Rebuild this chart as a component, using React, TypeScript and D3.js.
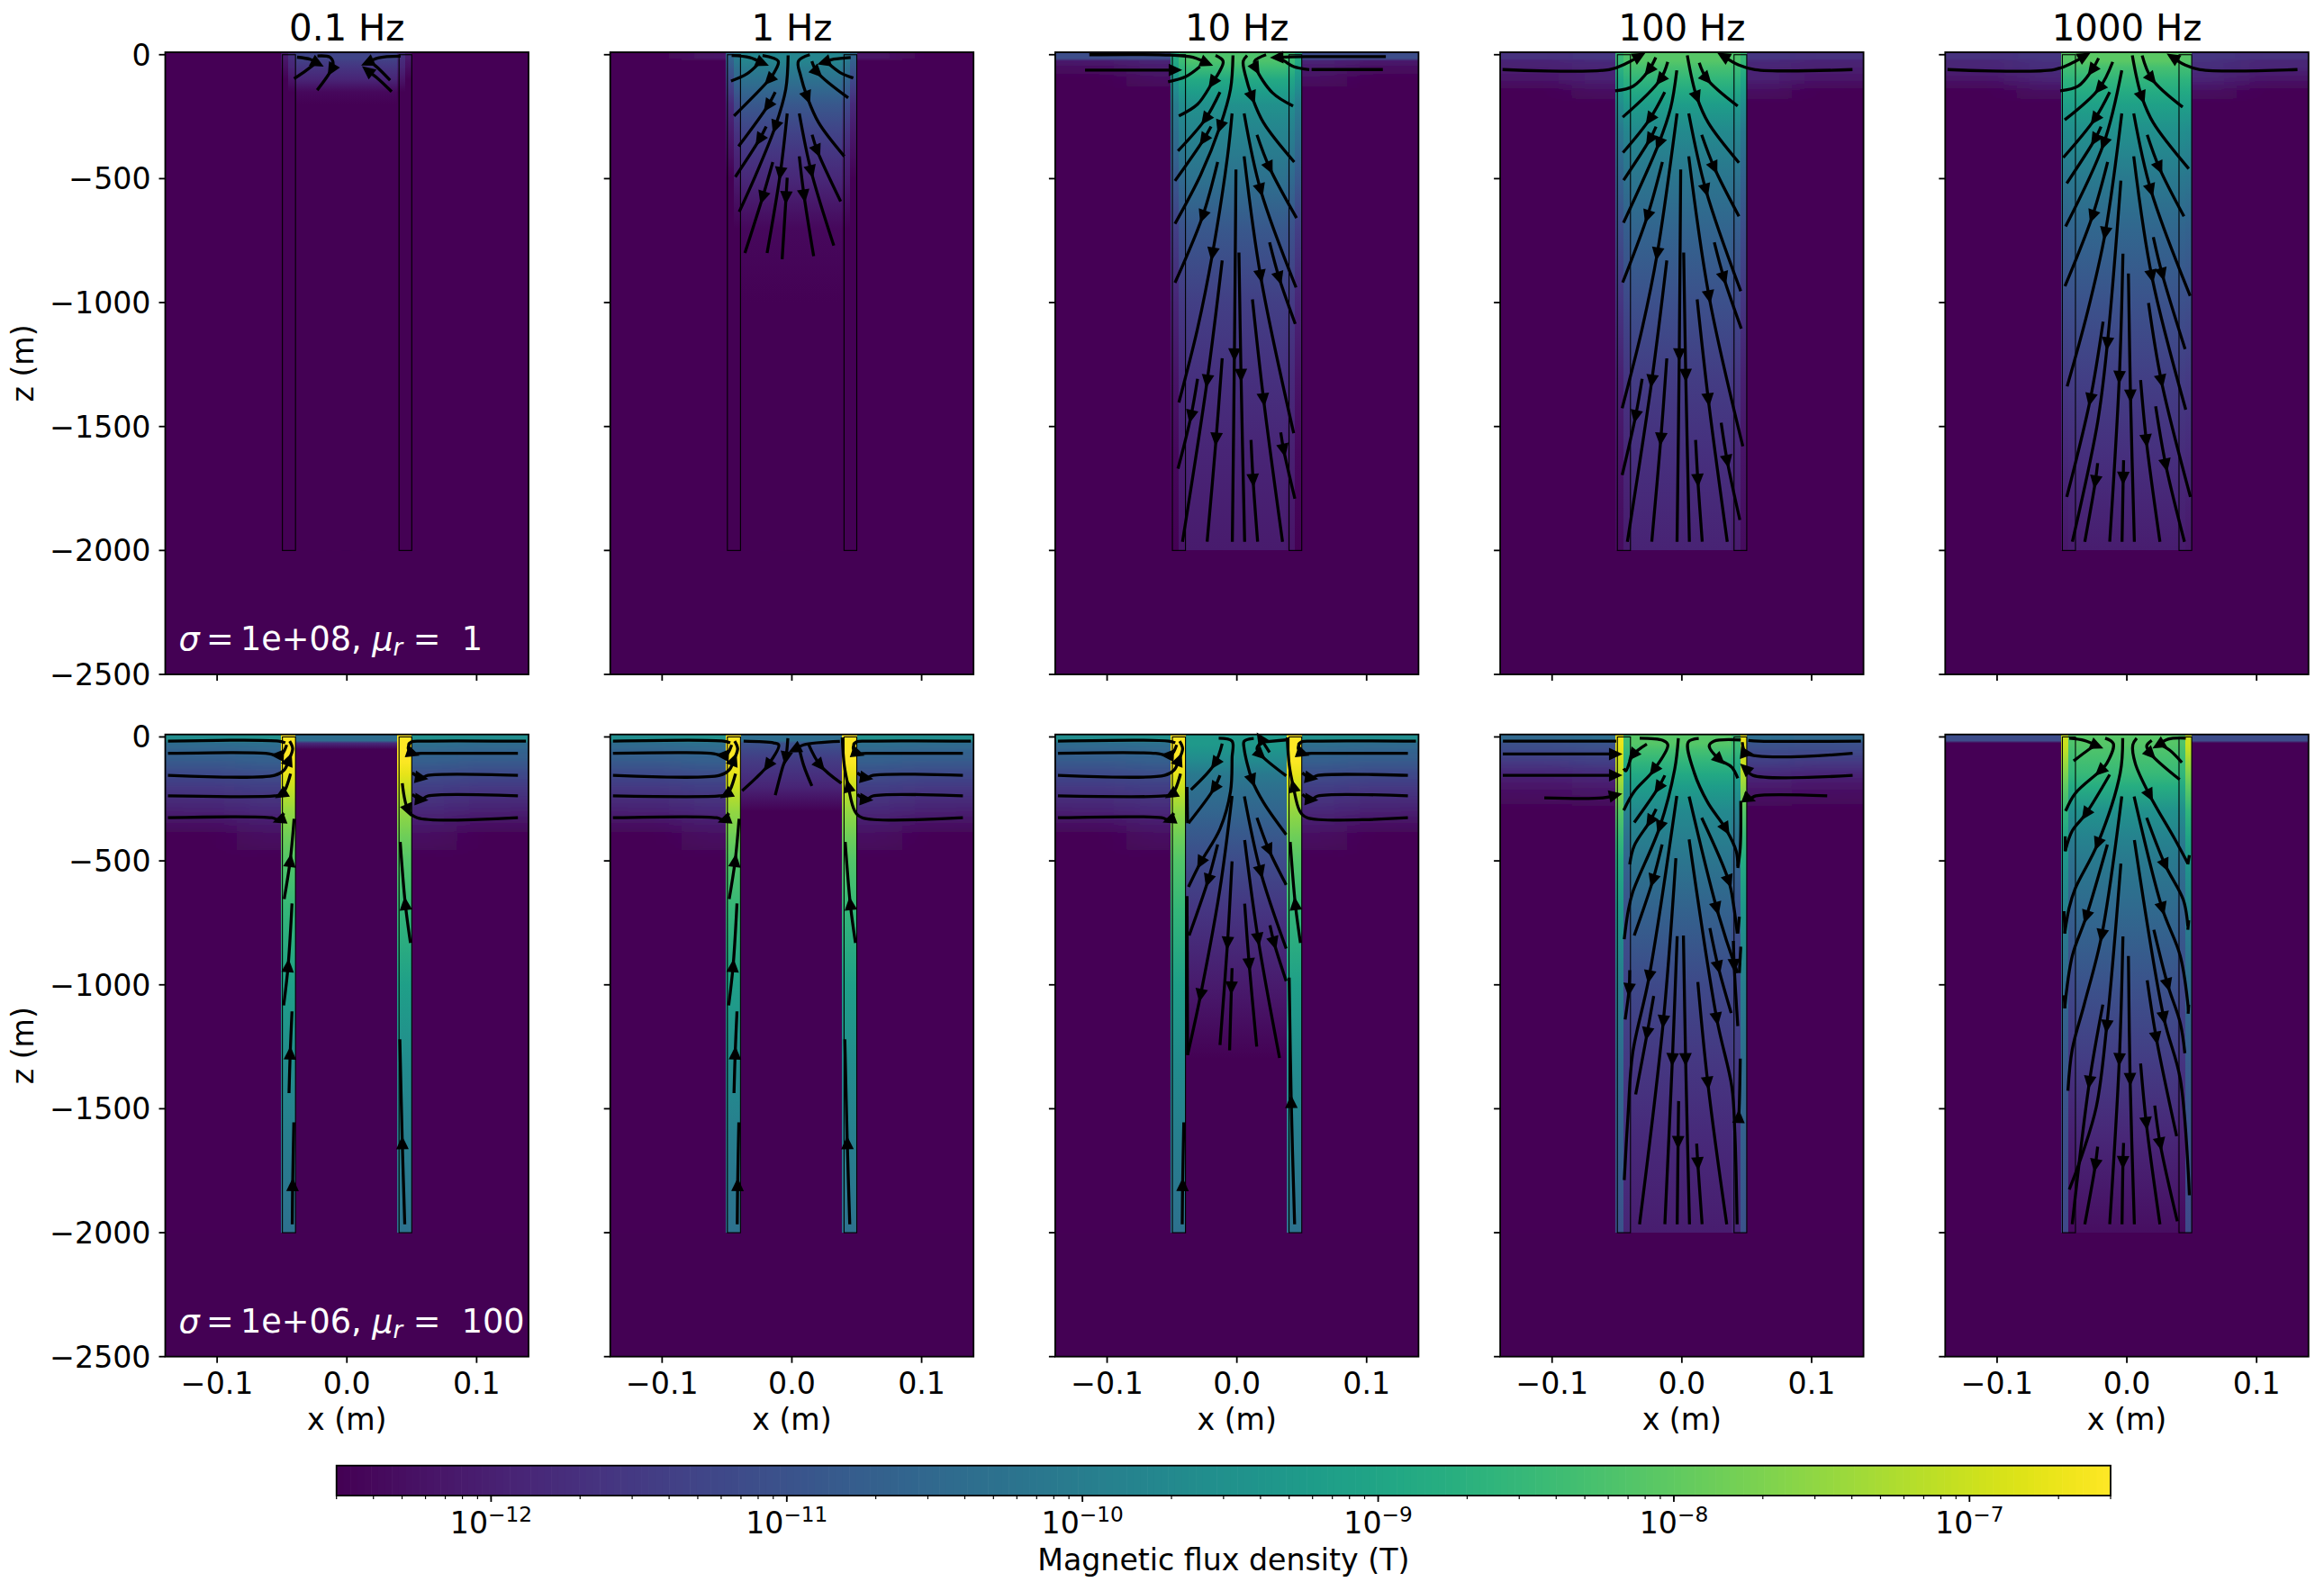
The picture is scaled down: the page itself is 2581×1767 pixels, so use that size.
import React from 'react';
import * as d3 from 'd3';

const freqs = ['0.1 Hz', '1 Hz', '10 Hz', '100 Hz', '1000 Hz'];
const xTicks = [-0.1, 0, 0.1];
const zTicks = [0, -500, -1000, -1500, -2000, -2500];
const cbarExps = [-12, -11, -10, -9, -8, -7];
const casingX = [[-49.7, -39.6], [40.2, 50]]; // mm

// log10(B) at each depth, missing values = below colour range
const depths = [0, 15, 25, 50, 100, 150, 200, 300, 400, 500, 700, 1000, 1300, 1600, 2000];
const colEdges = [-140, -85, -51, -45, -39.5, 38.6, 45, 50, 85, 140]; // mm

const top01 = {
  core: [-11.3, -11.3, -11.4, -11.6, -11.9, -12.4, -12.6],
  inner: [-11.7, -11.7, -11.8, -11.9, -12.2, -12.5],
  outer: [-12.1, -12.1, -12.2, -12.3, -12.5],
  near: [], far: [],
};
const top1 = {
  core: [-9.8, -9.8, -9.8, -10.0, -10.3, -10.6, -10.9, -11.3, -11.6, -11.85, -12.4, -12.6],
  inner: [-10.1, -10.1, -10.1, -10.3, -10.6, -10.9, -11.2, -11.6, -11.9, -12.1, -12.5],
  outer: [-10.6, -10.6, -10.7, -10.9, -11.2, -11.5, -11.8, -12.1, -12.3, -12.5],
  near: [-12.2, -12.2, -12.5], far: [-12.5],
};
const top10 = {
  core: [-8.2, -8.2, -8.2, -8.4, -8.9, -9.2, -9.5, -9.8, -10.05, -10.3, -10.9, -11.4, -11.7, -11.9, -12.1],
  inner: [-8.4, -8.4, -8.4, -8.6, -9, -9.3, -9.6, -9.9, -10.2, -10.5, -11, -11.5, -11.8, -12, -12.2],
  outer: [-8.9, -8.9, -8.9, -9.1, -9.4, -9.7, -10, -10.3, -10.6, -10.9, -11.4, -11.9, -12.2, -12.4, -12.5],
  near: [-11.1, -11.1, -11.9, -12.1, -12.3, -12.5], far: [-11.1, -11.1, -12.1, -12.3, -12.5],
};
const top100 = {
  core: [-8.1, -8.1, -8.1, -8.3, -8.6, -8.9, -9.2, -9.65, -9.95, -10.2, -10.6, -11.05, -11.45, -11.7, -11.95],
  inner: [-8.2, -8.2, -8.2, -8.4, -8.7, -9, -9.3, -9.75, -10.05, -10.3, -10.75, -11.2, -11.6, -11.85, -12.1],
  outer: [-8.5, -8.5, -8.5, -8.7, -9, -9.3, -9.6, -10.1, -10.4, -10.65, -11.1, -11.6, -12, -12.2, -12.35],
  near: [-11.6, -11.6, -11.8, -11.9, -12, -12.3, -12.5], far: [-11.7, -11.7, -11.95, -12, -12.2, -12.5],
};
const top1000 = {
  core: [-8.05, -8.05, -8.05, -8.3, -8.6, -8.85, -9.1, -9.5, -9.8, -10.1, -10.55, -11, -11.4, -11.7, -12.05],
  inner: [-8.1, -8.1, -8.1, -8.35, -8.65, -8.9, -9.15, -9.55, -9.85, -10.15, -10.6, -11.05, -11.45, -11.75, -12.1],
  outer: [-8.1, -8.1, -8.1, -8.35, -8.65, -8.9, -9.15, -9.6, -9.9, -10.2, -10.65, -11.1, -11.5, -11.8, -12.15],
  near: [-11.6, -11.6, -11.7, -11.75, -11.95, -12.3, -12.5], far: [-11.7, -11.7, -11.9, -11.9, -12.2, -12.5],
};
const wallLow = [-6.5, -6.5, -6.5, -6.5, -6.55, -6.75, -7, -7.5, -7.85, -8.15, -8.55, -9.15, -9.6, -9.95, -10.3];
const nearLow = [-9.5, -9.5, -10.3, -10.5, -10.75, -11.1, -11.4, -11.85, -12.3, -12.6];
const farLow = [-9.6, -9.6, -10.4, -10.6, -10.85, -11.2, -11.5, -12, -12.6];
const bottom01 = {
  core: [-10.4, -10.4, -11.8, -12.6],
  inner: wallLow, outer: wallLow, near: nearLow, far: farLow,
};
const bottom1 = {
  core: [-10.4, -10.4, -11, -11.2, -11.5, -11.7, -11.9, -12.6],
  inner: wallLow, outer: wallLow, near: nearLow, far: farLow,
};
const bottom10 = {
  core: [-9.3, -9.3, -9.3, -9.4, -9.7, -10.1, -10.3, -10.6, -10.9, -11.15, -11.6, -12.1, -12.6],
  inner: wallLow, outer: wallLow, near: nearLow, far: farLow,
};
const bottom100 = {
  core: [-8.1, -8.1, -8.1, -8.3, -8.6, -8.9, -9.2, -9.7, -9.95, -10.2, -10.65, -11.2, -11.55, -11.8, -12.05],
  inner: [-8.4, -8.4, -8.4, -8.5, -8.8, -9.1, -9.4, -9.9, -10.3, -10.6, -11, -11.3, -11.5, -11.7, -11.9],
  outer: [-6.7, -6.7, -6.7, -6.8, -7, -7.2, -7.5, -8.1, -8.5, -8.85, -9.4, -10, -10.4, -10.7, -11],
  near: [-10.4, -10.4, -10.95, -11.1, -11.4, -11.8, -12.1, -12.6],
  far: [-10.5, -10.5, -11, -11.15, -11.5, -11.9, -12.2, -12.6],
};
const bottom1000 = {
  core: [-8.1, -8.1, -8.1, -8.2, -8.35, -8.5, -8.8, -9.5, -9.85, -10.1, -10.5, -11, -11.45, -11.85, -12.3],
  inner: [-8.2, -8.2, -8.2, -8.3, -8.45, -8.6, -8.9, -9.6, -10, -10.3, -10.7, -11.2, -11.6, -12, -12.4],
  outer: [-7, -7, -7, -7.1, -7.4, -7.7, -8, -8.6, -9, -9.4, -9.9, -10.5, -10.85, -11.05, -11.2],
  near: [-11.1, -11.1, -12.6], far: [-11.1, -11.1, -12.6],
};

// streamlines: [arrow vertex (0 = none), x mm, z m, x mm, z m, ...] in flow order
const linesTop01 = [
  [2, -38.4, -10, -28, -19, -22.7, -34],
  [0, -40.7, -97, -31.5, -64, -24.5, -36],
  [3, -22.7, -5, -13, -10, -10.6, -34, -12, -61, -22.9, -143],
  [2, 41.4, -6, 24, -13, 16, -32],
  [0, 33.3, -103, 21.8, -44, 16, -25],
  [2, 34.5, -149, 24, -97, 16, -64],
];
const linesTop1 = [
  [2, -46.4, -3, -32.5, -11, -22.8, -33],
  [0, -46.9, -106, -34.8, -78, -25.6, -36],
  [3, -22.6, -3, -10.5, -26, -13.5, -71, -17.5, -101, -44.6, -247],
  [1, -12.8, -151, -18.6, -207, -41.1, -370],
  [1, -19.8, -290, -25.1, -343, -43.6, -493],
  [2, -2.9, -3, -4.7, -139, -12.8, -290, -27.9, -486, -40.6, -634],
  [1, -3.6, -237, -8.9, -478, -19.1, -800],
  [1, -14.7, -433, -22.6, -576, -36.2, -800],
  [1, -3.6, -496, -4.5, -576, -7.5, -825],
  [1, 5.7, -410, 9.4, -569, 16.8, -813],
  [1, 5.7, -237, 14.9, -471, 32.3, -770],
  [1, 15.6, -323, 19.6, -388, 37.6, -592],
  [3, 13.8, 0, 5, -26, 6.8, -86, 11.9, -172, 20.7, -275, 40.4, -410],
  [1, 15.4, -26, 19.6, -71, 43.4, -174],
  [2, 45.3, -11, 32.3, -18, 24.9, -30],
  [0, 47.3, -94, 36.9, -71, 27.6, -33],
];
const linesTop10 = [
  [3, -113.7, 0, -51.2, -1.5, -33.8, -10.6, -23.4, -33],
  [0, -53, -109, -39.6, -89, -28.5, -48],
  [1, -117, -62, -47.7, -62],
  [3, -16.4, -3, -10.6, -26, -13.7, -71, -18.8, -112, -30.3, -200, -44.7, -247],
  [1, -13, -151, -24.3, -260, -45.4, -388],
  [1, -19.9, -290, -25.7, -343, -47.7, -509],
  [2, -3, -3, -4.9, -139, -13, -290, -28, -486, -47.7, -682],
  [2, -3.7, -237, -7.2, -410, -18.8, -803, -30.3, -1105, -44.7, -1403],
  [1, -14.8, -433, -26.4, -652, -47.7, -920],
  [1, -11.3, -830, -22.9, -1316, -41.9, -1965],
  [1, -0.7, -463, -1.9, -1210, -3.5, -1965],
  [1, 1.6, -798, 3.2, -1293, 6, -1965],
  [1, -11.3, -1225, -16, -1550, -22.9, -1965],
  [1, -30.3, -1308, -35.4, -1459, -45.4, -1670],
  [3, 7.9, -3, 4.9, -26, 6.7, -86, 11.8, -172, 20.6, -275, 44.2, -433],
  [2, 22.5, 0, 13.7, -26, 14.8, -56, 27.5, -154, 43.3, -207],
  [2, 114.8, -8, 53, -8, 31, -11],
  [0, 55.8, -60, 43.8, -48, 36.8, -26, 32.2, -11],
  [0, 112.5, -60, 57.6, -60],
  [1, 5.6, -237, 18.3, -546, 45.6, -939],
  [1, 15.5, -323, 25.2, -456, 46, -659],
  [1, 5.6, -410, 18.3, -893, 43.8, -1527],
  [1, 25.2, -757, 32.6, -901, 45, -1086],
  [1, 12, -987, 20.6, -1391, 35.2, -1965],
  [1, 10.9, -1554, 12.5, -1716, 16, -1965],
  [1, 33.8, -1524, 36.1, -1595, 44.7, -1791],
];
const linesTop100 = [
  [3, -138.2, -60, -56, -60, -42, -33, -32.8, -6],
  [1, -20.1, -11, -25.5, -63, -37.5, -127, -51.4, -146],
  [1, -10.9, -29, -16.7, -101, -45.6, -252],
  [1, -13.2, -151, -24.8, -260, -45.4, -395],
  [1, -19.9, -290, -24.8, -343, -44.9, -506],
  [2, -3.9, -63, -8.6, -214, -17.8, -358, -45, -678],
  [1, -3.7, -237, -19, -803, -30.6, -1105, -46, -1426],
  [1, -15, -433, -26.6, -652, -45.6, -919],
  [1, -11.6, -830, -23.2, -1316, -42, -1965],
  [1, -30.6, -1308, -35.7, -1459, -46, -1696],
  [1, -0.9, -463, -2, -1210, -3.7, -1965],
  [1, 1.4, -798, 3, -1293, 5.8, -1965],
  [1, -11.6, -1225, -16.2, -1550, -23.2, -1965],
  [2, 4.2, -3, 7.6, -94, 11.6, -172, 20.4, -275, 44, -436],
  [1, 13.4, -33, 19.2, -97, 43, -207],
  [1, 5.3, -237, 18.5, -546, 45.4, -954],
  [1, 15.3, -323, 25, -456, 44, -652],
  [1, 5.3, -410, 21, -976, 47, -1580],
  [1, 25, -757, 32.4, -901, 45.8, -1105],
  [1, 11.8, -987, 20.4, -1391, 35, -1965],
  [1, 10.6, -1554, 12.3, -1716, 15.7, -1965],
  [1, 30.3, -1485, 35, -1640, 44.7, -1877],
  [3, 131.5, -60, 56.3, -60, 43.5, -41, 32, -6],
];
const linesTop1000 = [
  [3, -138.2, -60, -56, -60, -42, -33, -32.8, -6],
  [1, -21.8, -14, -27, -63, -37.5, -127, -51.4, -146],
  [1, -10.9, -29, -21.3, -136, -47.9, -263],
  [1, -13.2, -151, -24.8, -260, -49, -415],
  [1, -19.9, -290, -24.8, -343, -46.3, -519],
  [1, -3.9, -63, -17.8, -358, -47.2, -693],
  [1, -14.8, -433, -26.6, -652, -47.7, -934],
  [1, -3.9, -237, -16.7, -720, -30.6, -1044, -46, -1338],
  [1, -4.6, -508, -15, -1165, -22.5, -1482, -42, -1965],
  [1, -18.3, -1077, -28.2, -1391, -46.3, -1784],
  [1, -3, -803, -5.8, -1301, -13.2, -1965],
  [1, 1.2, -883, 2.8, -1376, 5.8, -1965],
  [1, -22.5, -1648, -24.3, -1723, -32.4, -1965],
  [1, -2.5, -1636, -2.8, -1708, -3.7, -1965],
  [2, 4.2, -3, 7.6, -94, 11.6, -172, 20.4, -275, 47.7, -460],
  [1, 11.8, -3, 19.2, -97, 43, -211],
  [1, 5.3, -237, 18.5, -546, 48.8, -973],
  [1, 15.7, -323, 25, -456, 44, -652],
  [1, 5.3, -410, 19.2, -893, 45.4, -1432],
  [1, 20.4, -736, 27.3, -886, 44.9, -1188],
  [1, 16.7, -1002, 26.6, -1316, 49, -1784],
  [1, 10.6, -1313, 15, -1557, 25.5, -1965],
  [1, 22.2, -1418, 30, -1655, 44.4, -1965],
  [3, 131.5, -60, 56.3, -60, 44.7, -41, 35.4, -11],
];

const sideLow = [
  [0, -137.9, -17, -52.5, -17, -47.5, -24],
  [2, -46.4, -32, -49.9, -69, -53.4, -74, -62.6, -66, -137.9, -66],
  [3, -137.9, -155, -55.7, -155, -48.3, -133, -44.6, -92, -41.8, -47, -44.1, -17],
  [2, -43.4, -148, -47.6, -213, -50.6, -232, -55.7, -238, -137.9, -238],
  [1, -48.7, -308, -52, -335, -57.9, -326, -137.9, -326],
  [0, 138, -17, 57.8, -17, 49.6, -20, 47.3, -32],
  [2, 48.5, -24, 47.3, -47, 50.8, -66, 57.8, -66, 131.8, -66],
  [1, 50.4, -145, 57.3, -165, 62.4, -155, 131.8, -155],
  [1, 50.4, -232, 57.3, -253, 62.4, -238, 131.8, -238],
  [1, -42.1, -1966, -41.8, -1807, -40.9, -1555],
  [1, 49, -831, 45, -673, 41.1, -424],
];
const upperWallLow = [
  [1, -48.3, -654, -43.7, -499, -40.7, -330],
  [1, -48.7, -1083, -45.3, -924, -42.3, -672],
  [1, -44.6, -1437, -43.7, -1276, -42.3, -1107],
  [1, 44.6, -1966, 42.7, -1638, 40.8, -1220],
];
const rightWallLong = [3, 131.8, -326, 54.3, -326, 48.5, -299, 43.4, -198, 40.4, -115, 38.8, -2];
const linesBottom01 = [
  ...sideLow, ...upperWallLow,
  [1, 42.7, -187, 47.3, -296, 54.2, -326, 131.8, -326],
];
const linesBottom1 = [
  ...sideLow, ...upperWallLow, rightWallLong,
  [3, -37.2, -17, -14, -24, -10.1, -32, -18.6, -115, -27.9, -167, -38.3, -217],
  [1, -3.1, -5, -4.7, -84, -7.1, -122, -12.8, -235],
  [2, 37, -18, 9, -32, 2.2, -50],
  [0, 5.7, -47, 9.1, -115, 15.4, -198],
  [1, 12.6, -27, 21.9, -115, 38.1, -187],
];
const linesBottom10 = [
  ...sideLow, rightWallLong,
  [1, 44.5, -1966, 41.9, -1472, 40.3, -971],
  [1, 25.2, -62, 18.3, -6],
  [0, 38, -12, 21.8, -20],
  [2, 18.8, -21, 15.5, -47, 18.3, -72, 38, -157],
  [3, 13, -6, 5.6, -17, 5.6, -47, 11.8, -175, 20.6, -265, 38, -394],
  [5, -14, -5, -3.7, -17, -3.7, -84, -4.9, -220, -13, -371, -28, -507, -37.3, -605],
  [1, -11.3, -27, -16.9, -107, -35.4, -213],
  [1, -13, -155, -17.6, -208, -37.3, -348],
  [0, -38.4, -202, -38, -348],
  [0, -38.4, -642, -38, -1283],
  [2, -3.7, -238, -13, -612, -28, -1042, -38, -1283],
  [1, -14.8, -434, -22.2, -579, -36.8, -801],
  [1, -3.7, -502, -7.2, -831, -13, -1243],
  [1, -3.7, -933, -4.2, -1012, -5.6, -1264],
  [1, 5.8, -240, 18.3, -544, 38, -854],
  [1, 6, -416, 16.4, -816, 32.9, -1295],
  [1, 6, -673, 9.5, -918, 15.3, -1249],
  [1, 15.5, -326, 24.8, -457, 38, -597],
  [1, 25.5, -760, 28.7, -831, 38, -985],
];
const linesBottom100 = [
  [0, -137.9, -17, -56.4, -17, -50.6, -17],
  [2, -138, -69, -55.3, -69, -51.3, -69],
  [2, -138, -155, -55.3, -155, -51.3, -155],
  [2, -106, -246, -61, -246, -51.3, -235],
  [0, 138, -17, 59.3, -17, 51.2, -14],
  [1, 46.6, -21, 50, -66, 131.6, -66],
  [2, 131.6, -155, 54.7, -155, 48.9, -127],
  [1, 49.4, -223, 51.9, -250, 57, -238, 112, -238],
  [3, -32.5, -5, -14.7, -14, -10.8, -32, -21.7, -134, -36.7, -220, -44.8, -296],
  [1, -27, -29, -37.9, -74, -43.2, -137, -44.8, -127],
  [1, -13.1, -155, -18.2, -205, -36.7, -345],
  [1, -19.8, -291, -24.7, -341, -36.7, -439, -40.2, -514],
  [2, -2.7, -5, -5.5, -130, -17, -363, -37.9, -627, -41.4, -703, -44.4, -816],
  [1, -3.9, -238, -25.2, -967, -37.9, -1276, -41.4, -1517, -44.4, -1788],
  [1, -15.2, -434, -22.4, -579, -36.7, -801],
  [1, -4.6, -489, -14.3, -1148, -32.6, -1966],
  [1, -21.7, -1045, -26.8, -1197, -35.6, -1442],
  [1, -3.6, -804, -7.3, -1301, -13.1, -1966],
  [1, 1.2, -801, 2.9, -1301, 5.9, -1966],
  [1, -2.5, -1469, -2.9, -1635, -3.6, -1966],
  [1, 11.4, -1641, 12.3, -1721, 15.6, -1966],
  [1, 12.3, -989, 20, -1396, 34.6, -1966],
  [1, -40.2, -941, -40.7, -1019, -43.7, -1140],
  [4, 13, -6, 4.9, -21, 9.6, -145, 20, -265, 33.9, -371, 41.9, -461, 43.1, -522],
  [1, 15.3, -326, 36.2, -582, 39.7, -673, 42.7, -793],
  [1, 5.6, -240, 26.9, -692, 40.8, -921, 43.1, -952],
  [1, 5.6, -413, 26.9, -1137, 38.5, -1411, 40.8, -1592, 42.6, -1966],
  [1, 21.6, -771, 28.1, -929, 38, -1114],
  [1, 39.7, -823, 40.3, -921, 43.1, -1167],
  [0, 45.4, -846, 44.3, -952],
  [0, 44.3, -725, 43.1, -793],
  [0, 45.4, -258, 45, -446, 43.1, -529],
  [1, 43.1, -1555, 43.8, -1532, 45, -1298],
  [3, 45.4, -12, 24.6, -17, 21.1, -36, 29.2, -92, 38.5, -122, 43.1, -167],
];
const linesBottom1000 = [
  [2, -44.4, -5, -32.8, -14, -23.2, -35],
  [0, -41, -97, -29.4, -51, -24.8, -36],
  [3, -16.7, -5, -10.4, -27, -15.5, -107, -20.6, -137, -39.8, -228, -47.2, -299],
  [1, -13.2, -152, -31.7, -311, -42.1, -379, -47.5, -461],
  [2, -3.2, -5, -5.1, -145, -22.5, -431, -39.8, -612, -44.4, -688, -47.9, -793],
  [1, -15, -434, -31.3, -725, -42.1, -884, -47.9, -1095],
  [1, -3.9, -240, -19.4, -801, -32.9, -1080, -42.1, -1261, -45.4, -1427],
  [1, -4.6, -511, -15.5, -1167, -23.6, -1494, -36.3, -1713, -44.4, -1826],
  [1, -18.5, -1080, -28.9, -1393, -42.1, -1966],
  [1, -22.5, -1653, -24.3, -1728, -32.4, -1966],
  [1, -3, -805, -5.8, -1301, -13.2, -1966],
  [1, 1.2, -884, 2.5, -1381, 5.8, -1966],
  [1, -2.5, -1638, -3, -1716, -3.7, -1966],
  [3, 7.6, -5, 4.6, -32, 6.5, -107, 17.6, -235, 36.6, -409, 47, -510],
  [2, 19.2, -14, 15.3, -36, 18.5, -69, 40.7, -172],
  [2, 45.4, -5, 31.9, -9, 24.5, -32],
  [0, 42.4, -103, 33.1, -54, 26.2, -32],
  [1, 5.6, -240, 27.3, -692, 41.2, -884, 47.5, -1102],
  [1, 15.3, -326, 29.6, -517, 43.5, -657, 47, -763],
  [1, 5.8, -416, 28.5, -1133, 41.2, -1381, 48.2, -1849],
  [1, 20.8, -778, 31.5, -1000, 41.2, -1155, 44.7, -1276],
  [1, 15.7, -982, 22.7, -1215, 38.4, -1611],
  [1, 10.6, -1317, 15, -1559, 25.5, -1966],
  [1, 21.5, -1487, 25.7, -1642, 38.9, -1954],
  [0, -47.5, -401, -47.5, -461],
  [0, -48.4, -703, -47.7, -793],
  [0, -48.4, -1042, -47.7, -1095],
  [0, 48.2, -477, 47, -514],
  [0, 47.7, -740, 47, -778],
  [0, 47.7, -1080, 47.2, -1117],
];

const fields = [
  [top01, top1, top10, top100, top1000],
  [bottom01, bottom1, bottom10, bottom100, bottom1000],
];
const streamlines = [
  [linesTop01, linesTop1, linesTop10, linesTop100, linesTop1000],
  [linesBottom01, linesBottom1, linesBottom10, linesBottom100, linesBottom1000],
];
const notes = [
  { sigma: '1e+08', mu: '1' },
  { sigma: '1e+06', mu: '100' },
];

const W = 2581;
const H = 1767;
const panelW = 403.5;
const panelH = 691;
const panelLefts = [183.5, 677.7, 1171.9, 1666.1, 2160.3];
const rowBottoms = [749, 1506.7];
const font = '"DejaVu Sans", sans-serif';
const tickSize = 33.2;
const FLOOR = -12.6;
const BLEED = 70; // outer bands run past their edge so the sideways blur has something to fade into

const color = d3.scaleSequentialLog(d3.interpolateViridis).domain([3e-13, 3e-7]).clamp(true);
const lineGen = d3.line().curve(d3.curveCatmullRom.alpha(0.5));

const Panel = ({ row, col }: any) => {
  const left = panelLefts[col];
  const bottom = rowBottoms[row];
  const x = d3.scaleLinear().domain([-0.14, 0.14]).range([left, left + panelW]);
  const y = d3.scaleLinear().domain([-2500, 10]).range([bottom, bottom - panelH]);
  const field: any = fields[row][col];
  const bands = [field.far, field.near, field.outer, field.inner, field.core, field.inner, field.outer, field.near, field.far];
  const idBase = `g${row}${col}`;
  const last = depths[depths.length - 1];
  const edge = (i: number) => x(colEdges[i] / 1000);
  const bandFill = (i: number) => `url(#${idBase}b${i <= 4 ? i : 8 - i})`;
  const top = y(10);
  const tall = y(-last) - top;

  return (
    <g>
      <defs>
        {bands.slice(0, 5).map((vals: number[], i: number) => (
          <linearGradient key={i} id={`${idBase}b${i}`} gradientUnits="userSpaceOnUse" x1={0} x2={0} y1={y(0)} y2={y(-last)}>
            {depths.map((d, k) => (
              <stop key={k} offset={d / last} stopColor={color(Math.pow(10, vals[k] ?? FLOOR))} />
            ))}
          </linearGradient>
        ))}
        <clipPath id={`${idBase}clip`}>
          <rect x={left} y={bottom - panelH} width={panelW} height={panelH} />
        </clipPath>
        <filter id={`${idBase}blur`} filterUnits="userSpaceOnUse" x={left - 200} y={top} width={panelW + 400} height={tall}>
          <feGaussianBlur stdDeviation="22 0" />
        </filter>
      </defs>
      <rect x={left} y={bottom - panelH} width={panelW} height={panelH} fill={color(3e-13)} />
      <g clipPath={`url(#${idBase}clip)`}>
        <g filter={`url(#${idBase}blur)`}>
          <rect x={edge(0) - BLEED} y={top} width={edge(1) - edge(0) + BLEED} height={tall} fill={bandFill(0)} />
          <rect x={edge(1)} y={top} width={edge(2) - edge(1) + BLEED} height={tall} fill={bandFill(1)} />
          <rect x={edge(7) - BLEED} y={top} width={edge(8) - edge(7) + BLEED} height={tall} fill={bandFill(7)} />
          <rect x={edge(8)} y={top} width={edge(9) - edge(8) + BLEED} height={tall} fill={bandFill(8)} />
        </g>
      </g>
      {[2, 3, 4, 5, 6].map((i) => (
        <rect key={i} x={edge(i)} y={top} width={edge(i + 1) - edge(i)} height={tall} fill={bandFill(i)} shapeRendering="crispEdges" />
      ))}
      {casingX.map((c, i) => (
        <rect key={i} x={x(c[0] / 1000)} y={y(0)} width={x(c[1] / 1000) - x(c[0] / 1000)} height={y(-2000) - y(0)} fill="none" stroke="#000" strokeWidth={1.1} />
      ))}
      {streamlines[row][col].map((s: number[], i: number) => {
        const pts: [number, number][] = [];
        for (let k = 1; k < s.length; k += 2) pts.push([x(s[k] / 1000), y(s[k + 1])]);
        const a = s[0];
        let head = null;
        if (a > 0) {
          const p0 = pts[a - 1];
          const p1 = pts[Math.min(a + 1, pts.length - 1)];
          const ang = (Math.atan2(p1[1] - p0[1], p1[0] - p0[0]) * 180) / Math.PI;
          head = <path d="M8,0L-7,-7L-7,7Z" fill="#000" transform={`translate(${pts[a][0]},${pts[a][1]}) rotate(${ang})`} />;
        }
        return (
          <g key={i}>
            <path d={lineGen(pts) as string} fill="none" stroke="#000" strokeWidth={3.3} />
            {head}
          </g>
        );
      })}
      <rect x={left} y={bottom - panelH} width={panelW} height={panelH} fill="none" stroke="#000" strokeWidth={1.8} />
      {xTicks.map((t) => (
        <g key={t}>
          <line x1={x(t)} x2={x(t)} y1={bottom} y2={bottom + 7} stroke="#000" strokeWidth={1.8} />
          {row === 1 && (
            <text x={x(t)} y={1548} textAnchor="middle" fontSize={tickSize} fontFamily={font}>
              {t.toFixed(1).replace('-', '\u2212')}
            </text>
          )}
        </g>
      ))}
      {row === 1 && (
        <text x={x(0)} y={1588} textAnchor="middle" fontSize={tickSize} fontFamily={font}>x (m)</text>
      )}
      {zTicks.map((t) => (
        <g key={t}>
          <line x1={left - 7} x2={left} y1={y(t)} y2={y(t)} stroke="#000" strokeWidth={1.8} />
          {col === 0 && (
            <text x={left - 16} y={y(t)} dy="0.36em" textAnchor="end" fontSize={tickSize} fontFamily={font}>
              {String(t).replace('-', '\u2212')}
            </text>
          )}
        </g>
      ))}
      {col === 0 && (
        <text transform={`translate(37,${bottom - panelH / 2}) rotate(-90)`} textAnchor="middle" fontSize={tickSize} fontFamily={font}>z (m)</text>
      )}
      {row === 0 && (
        <text x={x(0)} y={45} textAnchor="middle" fontSize={40.3} fontFamily={font}>{freqs[col]}</text>
      )}
      {col === 0 && (
        <text x={left + 15} y={bottom - 27} fill="#fff" fontSize={36.6} fontFamily={font}>
          <tspan fontStyle="italic">σ</tspan>
          <tspan>{'\u2009=\u2009'}{notes[row].sigma}, </tspan>
          <tspan fontStyle="italic">μ</tspan>
          <tspan fontStyle="italic" fontSize={26} dy={6}>r</tspan>
          <tspan dy={-6}> = </tspan>
          <tspan>{'\u00a0'}{notes[row].mu}</tspan>
        </text>
      )}
    </g>
  );
};

const Colorbar = () => {
  const left = 373.7;
  const right = 2344;
  const top = 1627.7;
  const bottom = 1661;
  const s = d3.scaleLog().domain([3e-13, 3e-7]).range([left, right]);
  const steps = d3.range(256);
  const cellW = (right - left) / 256;
  const ticks = s.ticks().filter((t) => t >= 3e-13 * 0.999 && t <= 3e-7 * 1.001);
  return (
    <g>
      {steps.map((i) => (
        <rect key={i} x={left + i * cellW} y={top} width={cellW + 0.6} height={bottom - top} fill={d3.interpolateViridis(i / 255)} />
      ))}
      <rect x={left} y={top} width={right - left} height={bottom - top} fill="none" stroke="#000" strokeWidth={1.8} />
      {ticks.map((t, i) => (
        <line key={i} x1={s(t)} x2={s(t)} y1={bottom} y2={bottom + 4} stroke="#000" strokeWidth={1.2} />
      ))}
      {cbarExps.map((e) => (
        <g key={e}>
          <line x1={s(Math.pow(10, e))} x2={s(Math.pow(10, e))} y1={bottom} y2={bottom + 7} stroke="#000" strokeWidth={1.8} />
          <text x={s(Math.pow(10, e))} y={1703} textAnchor="middle" fontSize={tickSize} fontFamily={font}>
            10
            <tspan fontSize={23.2} dy={-13}>{'\u2212' + Math.abs(e)}</tspan>
          </text>
        </g>
      ))}
      <text x={(left + right) / 2} y={1744} textAnchor="middle" fontSize={tickSize} fontFamily={font}>Magnetic flux density (T)</text>
    </g>
  );
};

export default function App() {
  return (
    <svg width={W} height={H} viewBox={`0 0 ${W} ${H}`} style={{ position: 'absolute', left: 0, top: 0, background: '#fff' }}>
      {[0, 1].map((row) => freqs.map((_, col) => <Panel key={`${row}-${col}`} row={row} col={col} />))}
      <Colorbar />
    </svg>
  );
}
